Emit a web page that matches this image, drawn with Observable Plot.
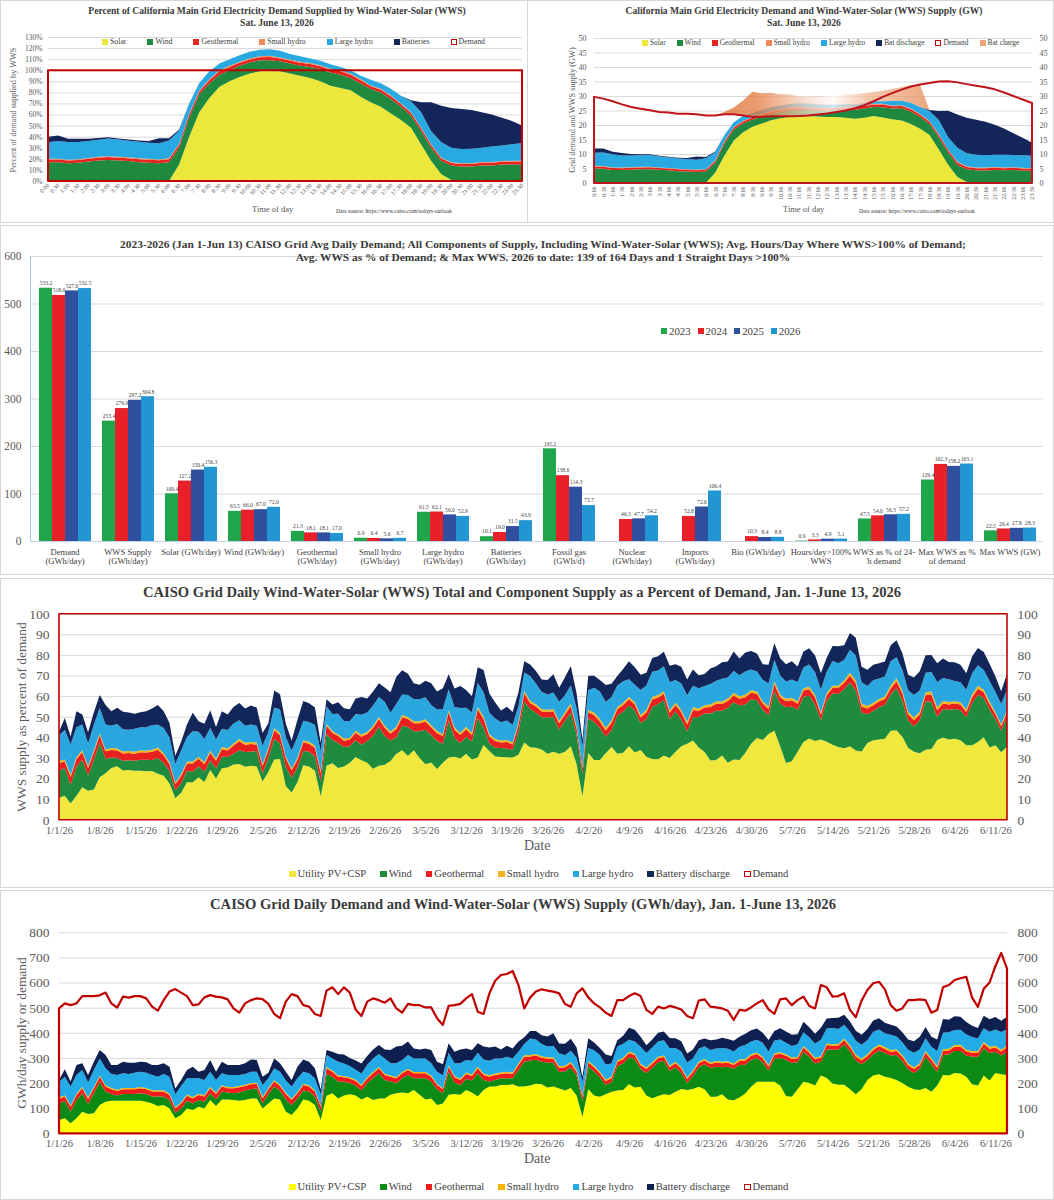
<!DOCTYPE html>
<html><head><meta charset="utf-8">
<script src="https://cdn.jsdelivr.net/npm/d3@7"></script>
<script src="https://cdn.jsdelivr.net/npm/@observablehq/plot@0.6"></script>
<style>
body{margin:0;background:#fff;font-family:"Liberation Serif","Times New Roman",serif;}
#page{position:relative;width:1054px;height:1200px;overflow:hidden;background:#fff;}
.panel{position:absolute;box-sizing:border-box;border:1px solid #d6d6d6;}
.abs{position:absolute;white-space:nowrap;color:#404040;}
.ttl{position:absolute;text-align:center;font-weight:bold;color:#3a3a3a;white-space:nowrap;}
.legend{position:absolute;display:flex;align-items:center;white-space:nowrap;color:#404040;}
.legend .it{display:flex;align-items:center;}
.legend .sw{display:inline-block;margin-right:2px;box-sizing:border-box;}
</style></head>
<body><div id="page"></div>
<script>
// ---------------- DATA: top charts (Sat. June 13, 2026, half-hourly) ----------------
const timeLabels = ["0:00","0:30","1:00","1:30","2:00","2:30","3:00","3:30","4:00","4:30","5:00","5:30","6:00","6:30","7:00","7:30","8:00","8:30","9:00","9:30","10:00","10:30","11:00","11:30","12:00","12:30","13:00","13:30","14:00","14:30","15:00","15:30","16:00","16:30","17:00","17:30","18:00","18:30","19:00","19:30","20:00","20:30","21:00","21:30","22:00","22:30","23:00","23:30"];
// percent of demand supplied by each source
const solarPct = [0,0,0,0,0,0,0,0,0,0,0,0,0,15,40,62,75,85,90,94,97,99,100,99,97,95,93,90,86,84,82,76,71,67,61,55,48,33,18,6,1,0,0,0,0,0,0,0];
const windPct  = [17,17,16,16.5,17.5,18.5,19,18.5,18,17,16.5,16,17,15,17,16,13,11,10,10,10,10,9,9,9,9,10,11,12,12,11,12,12,13,13,12,11,12,12,12,13,13,13,14,14,15,15,15];
const geoPct   = [2.3,2.3,2.4,2.4,2.5,2.5,2.6,2.6,2.6,2.7,2.7,2.7,2.7,2.7,3.0,2.6,3.0,3.0,3.0,2.7,2.7,2.7,3.0,2.7,2.7,2.7,2.6,2.6,2.5,3.0,3.0,3.0,2.5,2.4,2.4,2.3,2.3,2.3,2.3,2.3,2.3,2.3,2.4,2.4,2.4,2.4,2.5,2.5];
const shPct    = [0.7,0.7,0.7,0.7,0.7,0.8,0.8,0.8,0.8,0.8,0.8,0.8,0.8,0.8,1.0,0.9,1.0,1.0,1.0,0.9,0.9,0.9,1.0,0.9,0.9,0.9,0.9,0.9,0.9,1.0,1.0,1.0,0.8,0.8,0.8,0.7,0.7,0.7,0.7,0.7,0.7,0.7,0.7,0.7,0.7,0.7,0.7,0.7];
const lhPct    = [15,16,16,15.5,15.5,15.5,16,15.5,15,15,14.5,14.5,16,12,9,7,7,6,6,6,6,6,6,6,5,5,4,4,4,3,3,3,5,5,6,7,10,14,12,14,13,13,13,13,14,14,15,16];
const batPct   = [5,5,3,3,2,1.5,1,1,1,1,1.5,4.5,2,1,0,0,0,0,0,0,0,0,0,0,0,0,0,0,0,0,0,0,0,0,0,0,1,9,26,33,36,36,35,32,29,25,21,16];
// demand (GW) and battery charging (GW)
const demandGW = [29.7,29.1,28.2,27.1,26.2,25.6,25.1,24.5,24.3,23.9,23.9,23.7,23.3,23.3,23.7,23.7,23.3,22.8,22.8,23.0,23.0,23.0,23.1,23.3,23.6,24.0,24.5,25.0,25.8,26.8,28.2,29.7,31.0,32.2,33.3,34.0,34.5,35.0,35.1,34.7,34.1,33.5,33.0,32.3,31.2,30.0,28.8,27.6];
const batChargeGW = [0,0,0,0,0,0,0,0,0,0,0,0,0,0,7.9,5.1,5.4,7.3,5.9,5.0,3.8,3.2,2.5,2.4,2.6,2.8,3.1,3.4,3.4,3.4,3.2,3.6,4.1,4.6,5.9,7.6,0,0,0,0,0,0,0,0,0,0,0,0];

// ---------------- DATA: bar chart ----------------
const barCats = ["Demand\n(GWh/day)","WWS Supply\n(GWh/day)","Solar (GWh/day)","Wind (GWh/day)","Geothermal\n(GWh/day)","Small hydro\n(GWh/day)","Large hydro\n(GWh/day)","Batteries\n(GWh/day)","Fossil gas\n(GWh/d)","Nuclear\n(GWh/day)","Imports\n(GWh/day)","Bio (GWh/day)","Hours/day>100%\nWWS","WWS as % of 24-\nh demand","Max WWS as %\nof demand","Max WWS (GW)"];
const years = ["2023","2024","2025","2026"];
const v2023 = [533.2,253.4,100.4,63.5,21.3,6.9,61.5,10.1,195.2,null,null,null,0.9,47.5,129.4,22.5];
const v2024 = [518.0,279.9,127.2,66.0,18.1,6.4,62.1,19.0,138.6,46.3,52.8,10.3,3.3,54.0,162.3,26.4];
const v2025 = [527.6,297.2,150.4,67.0,18.1,5.6,56.0,31.5,114.3,47.7,72.6,8.4,4.9,56.3,158.2,27.8];
const v2026 = [532.5,304.8,156.3,72.0,17.0,6.7,52.9,43.9,75.7,54.2,106.4,8.8,5.1,57.2,163.1,28.3];

// ---------------- DATA: daily Jan 1 - Jun 13, 2026 (GWh/day) ----------------
const dSolar = [53,60,40,60,86,77,80,113,126,130, 130,130,130,130,130,126,119,109,113,99, 60,73,99,93,106,99,133,109,135,135,
 133,130,133,139,139,99,119,139,135,86, 73,99,135,130,113,53,149,159,139,150, 155,150,135,145,133,139,139,153,159,162,
 159,172,153,135,139,113,119,153,156,153, 172,162,146,172,186,186,192,192,195,186, 186,190,197,195,182,186,178,170,180,150,
 66,175,150,145,155,165,170,172,195,182, 185,150,140,148,155,152,165,176,172,176, 185,175,145,145,155,135,132,142,158,185,
 205,205,205,205,190,148,145,175,205,200, 190,230,220,198,193,193,175,155,175,212, 230,235,225,220,212,200,185,175,172,180,
 165,190,232,230,240,238,225,195,190,230, 210,240,235,232];
const dWind = [66,70,46,73,73,40,79,92,40,26, 20,26,26,26,29,30,27,37,33,34, 22,26,31,26,27,27,26,26,31,27,
 26,32,37,36,40,20,37,47,35,49, 40,40,35,36,33,33,87,66,67,55, 45,40,35,55,86,100,73,53,40,57,
 73,47,66,84,67,62,40,92,46,39, 44,48,93,40,20,26,27,27,24,66, 99,100,96,90,100,95,66,77,82,80,
 62,91,96,78,38,38,98,106,108,114, 71,90,120,135,133,96,98,64,28,52, 78,100,115,120,108,130,125,130,115,108,
 95,78,45,92,110,145,135,108,120,105, 88,55,115,135,140,160,152,135,100,80, 85,95,95,90,100,88,70,65,85,125,
 110,55,80,85,88,90,85,110,115,110, 110,85,75,95];
const dGeo = [18,16,20,19,20,20,20,20,20,19, 18,19,19,19,20,19,20,20,20,19, 17,20,19,20,19,20,20,21,20,17,
 20,21,18,20,17,20,19,20,18,21, 20,20,22,20,20,20,23,20,19,18, 18,18,18,18,20,20,20,19,20,20,
 20,20,20,20,19,17,16,20,21,20, 20,18,20,20,19,20,17,20,17,20, 20,16,17,16,15,16,17,16,16,15,
 16,16,17,16,15,16,16,17,16,16, 15,16,17,16,16,15,16,17,16,16, 16,15,16,17,16,16,15,16,17,16,
 16,16,15,16,17,16,16,15,16,16, 17,16,16,15,16,17,16,16,15,16, 17,16,16,15,16,17,16,16,15,16,
 17,16,16,15,16,17,16,16,15,16, 17,16,16,15];
const dSmallHydro = [5,5,5,5,5,5,5,5,5,5, 5,5,5,5,5,5,5,5,5,5, 4,5,5,5,5,5,5,5,5,5, 5,5,5,5,5,5,5,5,5,5,
 5,5,5,5,5,4,5,5,5,5, 5,5,5,5,5,5,5,5,5,5, 5,5,5,5,5,5,4,5,5,5, 6,6,6,6,6,6,6,6,6,6, 6,6,6,6,6,6,6,6,6,6,
 5,6,6,6,6,6,6,6,6,6, 6,6,6,6,6,6,6,6,6,6, 6,6,6,6,6,6,6,6,6,6, 6,6,6,6,6,6,6,6,6,6, 6,6,6,6,6,7,7,7,7,7,
 7,7,7,7,7,7,7,7,7,7, 7,7,7,7,7,7,7,7,7,7, 7,7,7,7];
const dLargeHydro = [62,74,75,75,68,60,68,68,68,56, 59,59,56,61,61,61,61,54,65,68, 52,64,65,75,62,61,61,51,48,48,
 48,44,43,45,44,48,39,48,52,49, 48,55,48,48,48,45,48,48,55,50, 45,40,45,50,54,52,61,49,55,48,
 55,54,54,54,49,48,52,51,51,62, 50,55,56,56,58,60,56,60,56,47, 44,65,57,48,42,45,52,42,45,50,
 55,52,62,67,60,53,55,55,47,47, 67,58,58,60,60,70,55,63,60,48, 52,50,50,50,55,50,48,50,55,50,
 50,55,55,50,50,45,45,50,55,55, 55,65,60,65,60,55,55,55,55,55, 65,60,55,60,50,50,55,58,55,50,
 45,60,65,65,60,60,60,55,50,55, 60,65,70,65];
const dBattery = [8,30,20,40,27,30,33,34,53,36, 40,46,45,40,40,42,40,47,43,40, 23,24,33,46,26,40,47,33,46,40,
 40,40,43,49,47,33,22,39,34,35, 26,46,49,46,40,19,20,27,31,36, 32,37,40,35,36,35,36,53,66,56,
 53,40,36,40,53,40,44,37,46,55, 46,43,37,51,52,47,36,43,40,40, 27,30,34,35,40,50,38,45,47,40,
 20,38,30,28,40,30,25,32,48,47, 40,30,32,35,35,40,38,40,36,36, 33,31,38,35,40,38,42,40,45,45,
 45,40,45,38,45,45,45,40,42,40, 40,48,40,40,45,40,40,40,40,45, 45,45,42,40,40,40,40,45,50,45,
 40,45,55,50,55,52,50,45,42,50, 50,50,45,50];
const dDemand = [497,517,510,517,546,546,546,549,560,517, 500,544,540,546,546,537,504,488,530,564, 574,560,546,510,513,541,550,544,541,533,
 497,480,517,530,537,534,515,475,458,524, 554,546,510,504,475,467,568,581,554,581, 560,493,467,524,537,530,520,537,497,480,
 515,510,510,501,501,458,431,507,510,515, 537,554,484,475,557,607,630,634,646,590, 497,540,564,573,568,564,557,515,504,557,
 577,541,517,501,480,467,530,530,546,557, 546,491,475,504,497,507,501,493,467,458, 528,533,504,501,497,488,451,491,488,501,
 517,530,493,475,533,537,510,530,544,507, 497,590,581,544,546,557,491,462,528,570, 597,603,573,510,488,497,530,530,533,530,
 480,491,581,590,610,617,623,540,503,575, 600,665,718,655];

// ---------------- helpers ----------------
const FONT = '"Liberation Serif","Times New Roman",serif';
const page = document.getElementById("page");
function box(x,y,w,h){const d=document.createElement("div");d.className="panel";Object.assign(d.style,{left:x+"px",top:y+"px",width:w+"px",height:h+"px"});page.appendChild(d);}
function label(str,x,y,css={}){const d=document.createElement("div");d.className="abs";d.textContent=str;Object.assign(d.style,{left:x+"px",top:y+"px"},css);page.appendChild(d);return d;}
function title(lines,cx,top,fs,lh){const d=document.createElement("div");d.className="ttl";d.innerHTML=lines.join("<br>");Object.assign(d.style,{left:(cx-600)+"px",width:"1200px",top:top+"px",fontSize:fs+"px",lineHeight:lh+"px"});page.appendChild(d);}
function vlabel(str,cx,cy,fs){const d=document.createElement("div");d.className="abs";d.textContent=str;Object.assign(d.style,{left:cx+"px",top:cy+"px",fontSize:fs+"px",transform:"translate(-50%,-50%) rotate(-90deg)",color:"#595959"});page.appendChild(d);}
function addPlot(svg,x,y){svg.style.position="absolute";svg.style.left=x+"px";svg.style.top=y+"px";svg.style.background="transparent";svg.style.overflow="visible";svg.style.maxWidth="none";page.appendChild(svg);return svg;}
function legend(items,x,yc,fs,gap,sw){const d=document.createElement("div");d.className="legend";
 Object.assign(d.style,{left:x+"px",top:(yc-fs*0.62)+"px",fontSize:fs+"px",gap:gap+"px",lineHeight:Math.round(fs*1.25)+"px"});
 items.forEach(([lab,color,hollow])=>{const it=document.createElement("span");it.className="it";const s=document.createElement("span");s.className="sw";
  Object.assign(s.style,{width:sw+"px",height:sw+"px",background:hollow?"#fff":color,border:hollow?("1.5px solid "+color):"none"});
  it.appendChild(s);it.appendChild(document.createTextNode(lab));d.appendChild(it);});
 page.appendChild(d);}

// panel frames
box(0,0,528,223); box(527,0,527,223); box(0,225,1054,350); box(0,578,1054,310); box(0,890,1054,310);

// ---------------- Top-left: percent of demand ----------------
const keysTop = ["Solar","Wind","Geothermal","Small hydro","Large hydro","Batteries"];
const colTop = ["#ece83b","#1f8a3f","#e3241f","#ef8a55","#28a9e1","#14255a"];
const pctSeries = [solarPct,windPct,geoPct,shPct,lhPct,batPct];
const tlLong = [];
keysTop.forEach((k,j)=>pctSeries[j].forEach((v,i)=>tlLong.push({i,k,v})));
const demandPct = demandGW.map(d=>d/d*100);
const tl = Plot.plot({
  width:527,height:190,marginTop:7,marginBottom:39,marginLeft:48,marginRight:5,
  style:{fontFamily:FONT,color:"#595959",background:"transparent",overflow:"visible"},
  x:{domain:[0,47]}, y:{domain:[0,130]},
  color:{domain:keysTop,range:colTop},
  marks:[
    Plot.gridY(d3.range(10,131,10),{stroke:"#d9d9d9",strokeOpacity:1}),
    Plot.areaY(tlLong,{x:"i",y:"v",z:"k",fill:"k"}),
    Plot.areaY(demandPct,{x:(d,i)=>i,y:d=>d,fill:"none",stroke:"#c00000",strokeWidth:2}),
    Plot.axisX({ticks:d3.range(48),tickFormat:i=>timeLabels[i],tickRotate:-45,tickSize:0,tickPadding:3,fontSize:6,label:null}),
    Plot.axisY({ticks:d3.range(0,131,10),tickFormat:d=>d+"%",tickSize:0,tickPadding:6,fontSize:7.5,label:null})
  ]});
addPlot(tl,0,30);
title(["Percent of California Main Grid Electricity Demand Supplied by Wind-Water-Solar (WWS)","Sat. June 13,  2026"],277,5,9.6,12);
vlabel("Percent of demand supplied by WWS",13,110,8.3);
label("Time of day",252,204,{fontSize:"8.5px",color:"#595959"});
label("Data source: https://www.caiso.com/todays-outlook",336,208,{fontSize:"5.6px",color:"#333"});
legend([["Solar",colTop[0]],["Wind",colTop[1]],["Geothermal",colTop[2]],["Small hydro",colTop[3]],["Large hydro",colTop[4]],["Batteries",colTop[5]],["Demand","#c00000",true]],102,42,7.8,21,6);

// ---------------- Top-right: GW ----------------
const keysTR = ["Solar","Wind","Geothermal","Small hydro","Large hydro","Bat discharge"];
const colTR = ["#ece83b","#1f8a3f","#e3241f","#ef8a55","#28a9e1","#14255a"];
const gwSeries = pctSeries.map(a=>a.map((p,i)=>p*demandGW[i]/100));
const trLong = [];
keysTR.forEach((k,j)=>gwSeries[j].forEach((v,i)=>trLong.push({i,k,v})));
const wwsTotal = demandGW.map((d,i)=>d3.sum(gwSeries,s=>s[i]));
// battery charging drawn above the supply; morning band sits on the demand curve
const chargeRows = d3.range(13,37).map(i=>{
  const lo = i<24 ? demandGW[i] : Math.min(demandGW[i], wwsTotal[i]);
  return {i, lo, hi: Math.max(lo, wwsTotal[i]+batChargeGW[i])};
});
const tr = Plot.plot({
  width:527,height:190,marginTop:8,marginBottom:37,marginLeft:67,marginRight:22,
  style:{fontFamily:FONT,color:"#595959",background:"transparent",overflow:"visible"},
  x:{domain:[0,47]}, y:{domain:[0,50]},
  color:{domain:keysTR,range:colTR},
  marks:[
    Plot.gridY(d3.range(5,51,5),{stroke:"#d9d9d9",strokeOpacity:1}),
    Plot.areaY(trLong,{x:"i",y:"v",z:"k",fill:"k"}),
    Plot.areaY(chargeRows,{x:"i",y1:"lo",y2:"hi",fill:"url(#batChargeGrad)",fillOpacity:0.75}),
    Plot.areaY(demandGW,{x:(d,i)=>i,y:d=>d,fill:"none",stroke:"#c0141c",strokeWidth:2}),
    Plot.axisX({ticks:d3.range(48),tickFormat:i=>timeLabels[i],tickRotate:-90,tickSize:0,tickPadding:3,fontSize:5.8,label:null}),
    Plot.axisY({anchor:"left",ticks:d3.range(0,51,5),tickSize:0,tickPadding:8,fontSize:8,label:null}),
    Plot.axisY({anchor:"right",ticks:d3.range(0,51,5),tickSize:0,tickPadding:7,fontSize:8,label:null})
  ]});
const sxTR = tr.scale("x");
const gx1 = sxTR.apply(13), gx2 = sxTR.apply(36);
const defs = document.createElementNS("http://www.w3.org/2000/svg","defs");
defs.innerHTML = '<linearGradient id="batChargeGrad" gradientUnits="userSpaceOnUse" x1="'+gx1+'" x2="'+gx2+'" y1="0" y2="0">'+
 '<stop offset="0" stop-color="#dc6a2c"/><stop offset="0.2" stop-color="#e27a3e"/>'+
 '<stop offset="0.42" stop-color="#f6d6c2"/><stop offset="0.55" stop-color="#fffaf6"/>'+
 '<stop offset="0.72" stop-color="#f0b48e"/><stop offset="1" stop-color="#e58a55"/></linearGradient>';
tr.prepend(defs);
addPlot(tr,527,30);
title(["California Main Grid Electricity Demand and Wind-Water-Solar (WWS) Supply (GW)","Sat. June 13, 2026"],804,5,9.6,12);
vlabel("Grid demand and WWS supply (GW)",572,110,8.3);
label("Time of day",783,204,{fontSize:"8.5px",color:"#595959"});
label("Data source: https://www.caiso.com/todays-outlook",859,208,{fontSize:"5.6px",color:"#333"});
legend([["Solar",colTR[0]],["Wind",colTR[1]],["Geothermal",colTR[2]],["Small hydro",colTR[3]],["Large hydro",colTR[4]],["Bat discharge",colTR[5]],["Demand","#c00000",true],["Bat charge","#eca27a"]],642,43,7.4,11,6);

// ---------------- Bar chart ----------------
const yearColors = ["#1fa64b","#e8202a","#2f4f9f","#2196d2"];
const barLong = [];
barCats.forEach((c,ci)=>[v2023,v2024,v2025,v2026].forEach((arr,yi)=>{if(arr[ci]!=null) barLong.push({cat:c,year:years[yi],v:arr[ci]});}));
const barGrid = Plot.plot({
  width:1054,height:350,marginTop:31,marginBottom:34,marginLeft:30,marginRight:11,
  style:{fontFamily:FONT,color:"#595959",background:"transparent",overflow:"visible"},
  x:{domain:[0,1],axis:null}, y:{domain:[0,600]},
  marks:[
    Plot.gridY(d3.range(100,601,100),{stroke:"#d9d9d9",strokeOpacity:1}),
    Plot.ruleY([0],{stroke:"#c4d3ea"}),
    Plot.ruleX([0],{stroke:"#9dc3e6"}),
    Plot.axisY({ticks:d3.range(0,601,100),tickSize:0,tickPadding:9,fontSize:11.5,label:null})
  ]});
addPlot(barGrid,0,225);
const bars = Plot.plot({
  width:1054,height:350,marginTop:31,marginBottom:34,marginLeft:30,marginRight:11,
  style:{fontFamily:FONT,color:"#404040",background:"transparent",overflow:"visible"},
  fx:{domain:barCats,padding:0.13,axis:null,label:null},
  x:{domain:years,padding:0,axis:null},
  y:{domain:[0,600],axis:null},
  color:{domain:years,range:yearColors},
  marks:[
    Plot.barY(barLong,{fx:"cat",x:"year",y:"v",fill:"year"}),
    Plot.text(barLong,{fx:"cat",x:"year",y:"v",text:d=>d.v.toFixed(1),dy:-5,fontSize:5.6,fill:"#404040"}),
    Plot.axisFx({anchor:"bottom",tickSize:0,tickPadding:6,fontSize:8.6,label:null,lineHeight:1.15})
  ]});
addPlot(bars,0,225);
title(["2023-2026 (Jan 1-Jun 13) CAISO Grid Avg Daily Demand; All Components of Supply, Including Wind-Water-Solar (WWS); Avg. Hours/Day Where WWS&gt;100% of Demand;","Avg. WWS as % of Demand; &amp; Max WWS. 2026 to date: 139 of 164 Days and 1 Straight Days &gt;100%"],543,238,11.4,13);
legend(years.map((y,i)=>[y,yearColors[i]]),661,331,10.8,7,6);

// ---------------- Daily panels ----------------
const dates = d3.range(dDemand.length).map(i=>new Date(Date.UTC(2026,0,1+i)));
const tickDates = dates.filter((d,i)=>i%7===0);
const fmtDate = d=>(d.getUTCMonth()+1)+"/"+d.getUTCDate()+"/26";
const keys5 = ["Utility PV+CSP","Wind","Geothermal","Small hydro","Large hydro","Battery discharge"];
const series5 = [dSolar,dWind,dGeo,dSmallHydro,dLargeHydro,dBattery];
const col4 = ["#f0e83c","#1e8c3c","#e8201f","#f4b31a","#2aa7df","#13265a"];
const col5 = ["#ffff00","#0b8a14","#ee1c1c","#f5b400","#22abe6","#0e2050"];

// panel 4: percent of demand
const long4 = [];
keys5.forEach((k,j)=>series5[j].forEach((v,i)=>long4.push({d:dates[i],k,v:v/dDemand[i]*100})));
const p4 = Plot.plot({
  width:1054,height:255,marginTop:13.7,marginBottom:35.3,marginLeft:59,marginRight:47,
  style:{fontFamily:FONT,color:"#595959",background:"transparent",overflow:"visible"},
  x:{type:"utc",domain:[dates[0],dates[dates.length-1]]}, y:{domain:[0,100]},
  color:{domain:keys5,range:col4},
  marks:[
    Plot.gridY(d3.range(10,101,10),{stroke:"#d9d9d9",strokeOpacity:1}),
    Plot.areaY(long4,{x:"d",y:"v",z:"k",fill:"k"}),
    Plot.areaY(dates,{x:d=>d,y:(d,i)=>dDemand[i]/dDemand[i]*100,fill:"none",stroke:"#c00000",strokeWidth:1.6}),
    Plot.axisX({ticks:tickDates,tickFormat:fmtDate,tickSize:0,tickPadding:6,fontSize:10.5,label:null}),
    Plot.axisY({anchor:"left",ticks:d3.range(0,101,10),tickSize:0,tickPadding:10,fontSize:13.5,label:null}),
    Plot.axisY({anchor:"right",ticks:d3.range(0,101,10),tickSize:0,tickPadding:10,fontSize:13.5,label:null})
  ]});
addPlot(p4,0,600);
title(["CAISO Grid Daily Wind-Water-Solar (WWS) Total and Component Supply as a Percent of Demand, Jan. 1-June 13, 2026"],522,583,14.6,18);
vlabel("WWS supply as percent of demand",22,717,13.4);
label("Date",524,838,{fontSize:"14px",color:"#595959"});
legend(keys5.map((k,i)=>[k,col4[i]]).concat([["Demand","#c00000",true]]),289,874,10.6,14,6.5);

// panel 5: GWh/day
const long5 = [];
keys5.forEach((k,j)=>series5[j].forEach((v,i)=>long5.push({d:dates[i],k,v})));
const p5 = Plot.plot({
  width:1054,height:255,marginTop:17.3,marginBottom:36.7,marginLeft:59,marginRight:47,
  style:{fontFamily:FONT,color:"#595959",background:"transparent",overflow:"visible"},
  x:{type:"utc",domain:[dates[0],dates[dates.length-1]]}, y:{domain:[0,800]},
  color:{domain:keys5,range:col5},
  marks:[
    Plot.gridY(d3.range(100,801,100),{stroke:"#d9d9d9",strokeOpacity:1}),
    Plot.areaY(long5,{x:"d",y:"v",z:"k",fill:"k"}),
    Plot.areaY(dates,{x:d=>d,y:(d,i)=>dDemand[i],fill:"none",stroke:"#c00000",strokeWidth:2.2}),
    Plot.axisX({ticks:tickDates,tickFormat:fmtDate,tickSize:0,tickPadding:6,fontSize:10.5,label:null}),
    Plot.axisY({anchor:"left",ticks:d3.range(0,801,100),tickSize:0,tickPadding:10,fontSize:13.5,label:null}),
    Plot.axisY({anchor:"right",ticks:d3.range(0,801,100),tickSize:0,tickPadding:10,fontSize:13.5,label:null})
  ]});
addPlot(p5,0,915);
title(["CAISO Grid Daily Demand and Wind-Water-Solar (WWS) Supply (GWh/day), Jan. 1-June 13,  2026"],523,895,14.6,18);
vlabel("GWh/day supply or demand",22,1033,13.4);
label("Date",524,1151,{fontSize:"14px",color:"#595959"});
legend(keys5.map((k,i)=>[k,col5[i]]).concat([["Demand","#c00000",true]]),289,1187,10.6,14,6.5);
</script>
</body></html>
